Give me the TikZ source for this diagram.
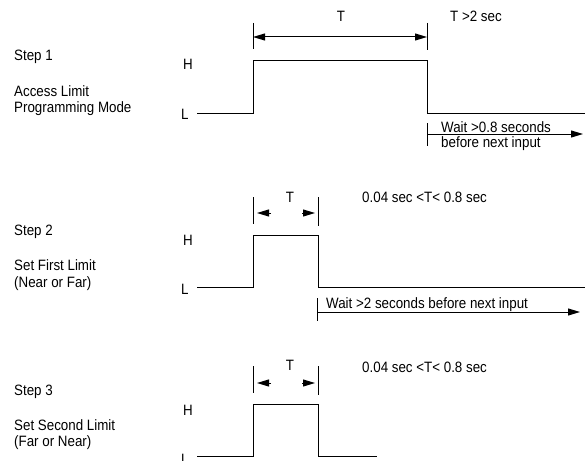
\documentclass[tikz,border=0pt]{standalone}
\usepackage{fontspec}
\setmainfont{Liberation Sans}[FakeStretch=0.89]
\usetikzlibrary{arrows.meta}
\begin{document}
\begin{tikzpicture}[x=1pt,y=-1pt,
  wave/.style={line width=1pt},
  tickline/.style={line width=0.9pt},
  lbl/.style={anchor=base west, inner sep=0pt, font=\fontsize{15}{16}\selectfont},
  clbl/.style={anchor=base, inner sep=0pt, font=\fontsize{15}{16}\selectfont},
  tri/.tip={Triangle[length=12pt,width=7pt]},
  tip/.style={-tri, line width=1pt},
  dtip/.style={tri-tri, line width=1pt}]
\useasboundingbox (0,0) rectangle (585,460);

% ---------------- Step 1 ----------------
\node[lbl] (s1) at (14,60) {Step 1};
\node[lbl] (s1a) at (14,96) {Access Limit};
\node[lbl] (s1b) at (14,112) {Programming Mode};
\node[lbl] (h1) at (183,69) {H};
\node[lbl] (l1) at (181,119) {L};

\coordinate (w1a) at (197,113);
\coordinate (w1b) at (253,113);
\coordinate (w1c) at (253,60);
\coordinate (w1d) at (427,60);
\coordinate (w1e) at (427,113);
\coordinate (w1f) at (586,113);
\draw[wave] (w1a) -- (w1b) -- (w1c) -- (w1d) -- (w1e) -- (w1f);

\coordinate (t1at) at (253,23);
\coordinate (t1ab) at (253,49);
\coordinate (t1bt) at (427,23);
\coordinate (t1bb) at (427,50);
\draw[tickline] (t1at) -- (t1ab);
\draw[tickline] (t1bt) -- (t1bb);
\coordinate (d1a) at (253,37);
\coordinate (d1b) at (427,37);
\draw[dtip] (d1a) -- (d1b);
\node[clbl] (T1) at (341,21.5) {T};
\node[lbl] (T1c) at (450,21.5) {T >2 sec};

\coordinate (wt1t) at (427,123);
\coordinate (wt1b) at (427,146);
\draw[tickline] (wt1t) -- (wt1b);
\coordinate (wa1a) at (427,134);
\coordinate (wa1b) at (583,134);
\draw[tip] (wa1a) -- (wa1b);
\node[lbl] (wx1a) at (441,132) {Wait >0.8 seconds};
\node[lbl] (wx1b) at (441,147) {before next input};

% ---------------- Step 2 ----------------
\node[lbl] (s2) at (14,235.5) {Step 2};
\node[lbl] (s2a) at (14,270.5) {Set First Limit};
\node[lbl] (s2b) at (14,287) {(Near or Far)};
\node[lbl] (h2) at (183,245) {H};
\node[lbl] (l2) at (181,294) {L};

\coordinate (w2a) at (197,287);
\coordinate (w2b) at (253,287);
\coordinate (w2c) at (253,235);
\coordinate (w2d) at (318,235);
\coordinate (w2e) at (318,287);
\coordinate (w2f) at (586,287);
\draw[wave] (w2a) -- (w2b) -- (w2c) -- (w2d) -- (w2e) -- (w2f);

\coordinate (t2at) at (253,197);
\coordinate (t2ab) at (253,224);
\coordinate (t2bt) at (318,197);
\coordinate (t2bb) at (318,226);
\draw[tickline] (t2at) -- (t2ab);
\draw[tickline] (t2bt) -- (t2bb);
\coordinate (a2la) at (271,213);
\coordinate (a2lb) at (257,213);
\coordinate (a2ra) at (302,213);
\coordinate (a2rb) at (315,213);
\draw[tip] (a2la) -- (a2lb);
\draw[tip] (a2ra) -- (a2rb);
\node[clbl] (T2) at (290,202) {T};
\node[lbl] (T2c) at (362,202.5) {0.04 sec <T< 0.8 sec};

\coordinate (wt2t) at (317,298);
\coordinate (wt2b) at (317,321);
\draw[tickline] (wt2t) -- (wt2b);
\coordinate (wa2a) at (317,312);
\coordinate (wa2b) at (580,312);
\draw[tip] (wa2a) -- (wa2b);
\node[lbl] (wx2) at (326,308.5) {Wait >2 seconds before next input};

% ---------------- Step 3 ----------------
\node[lbl] (s3) at (14,395.5) {Step 3};
\node[lbl] (s3a) at (14,430) {Set Second Limit};
\node[lbl] (s3b) at (14,446.5) {(Far or Near)};
\node[lbl] (h3) at (183,415) {H};
\node[lbl] (l3) at (181,464) {L};

\coordinate (w3a) at (197,456);
\coordinate (w3b) at (253,456);
\coordinate (w3c) at (253,404);
\coordinate (w3d) at (318,404);
\coordinate (w3e) at (318,456);
\coordinate (w3f) at (377,456);
\draw[wave] (w3a) -- (w3b) -- (w3c) -- (w3d) -- (w3e) -- (w3f);

\coordinate (t3at) at (253,366);
\coordinate (t3ab) at (253,393);
\coordinate (t3bt) at (318,366);
\coordinate (t3bb) at (318,395);
\draw[tickline] (t3at) -- (t3ab);
\draw[tickline] (t3bt) -- (t3bb);
\coordinate (a3la) at (271,383);
\coordinate (a3lb) at (257,383);
\coordinate (a3ra) at (302,383);
\coordinate (a3rb) at (315,383);
\draw[tip] (a3la) -- (a3lb);
\draw[tip] (a3ra) -- (a3rb);
\node[clbl] (T3) at (290,370.5) {T};
\node[lbl] (T3c) at (362,372.5) {0.04 sec <T< 0.8 sec};
\end{tikzpicture}
\end{document}
